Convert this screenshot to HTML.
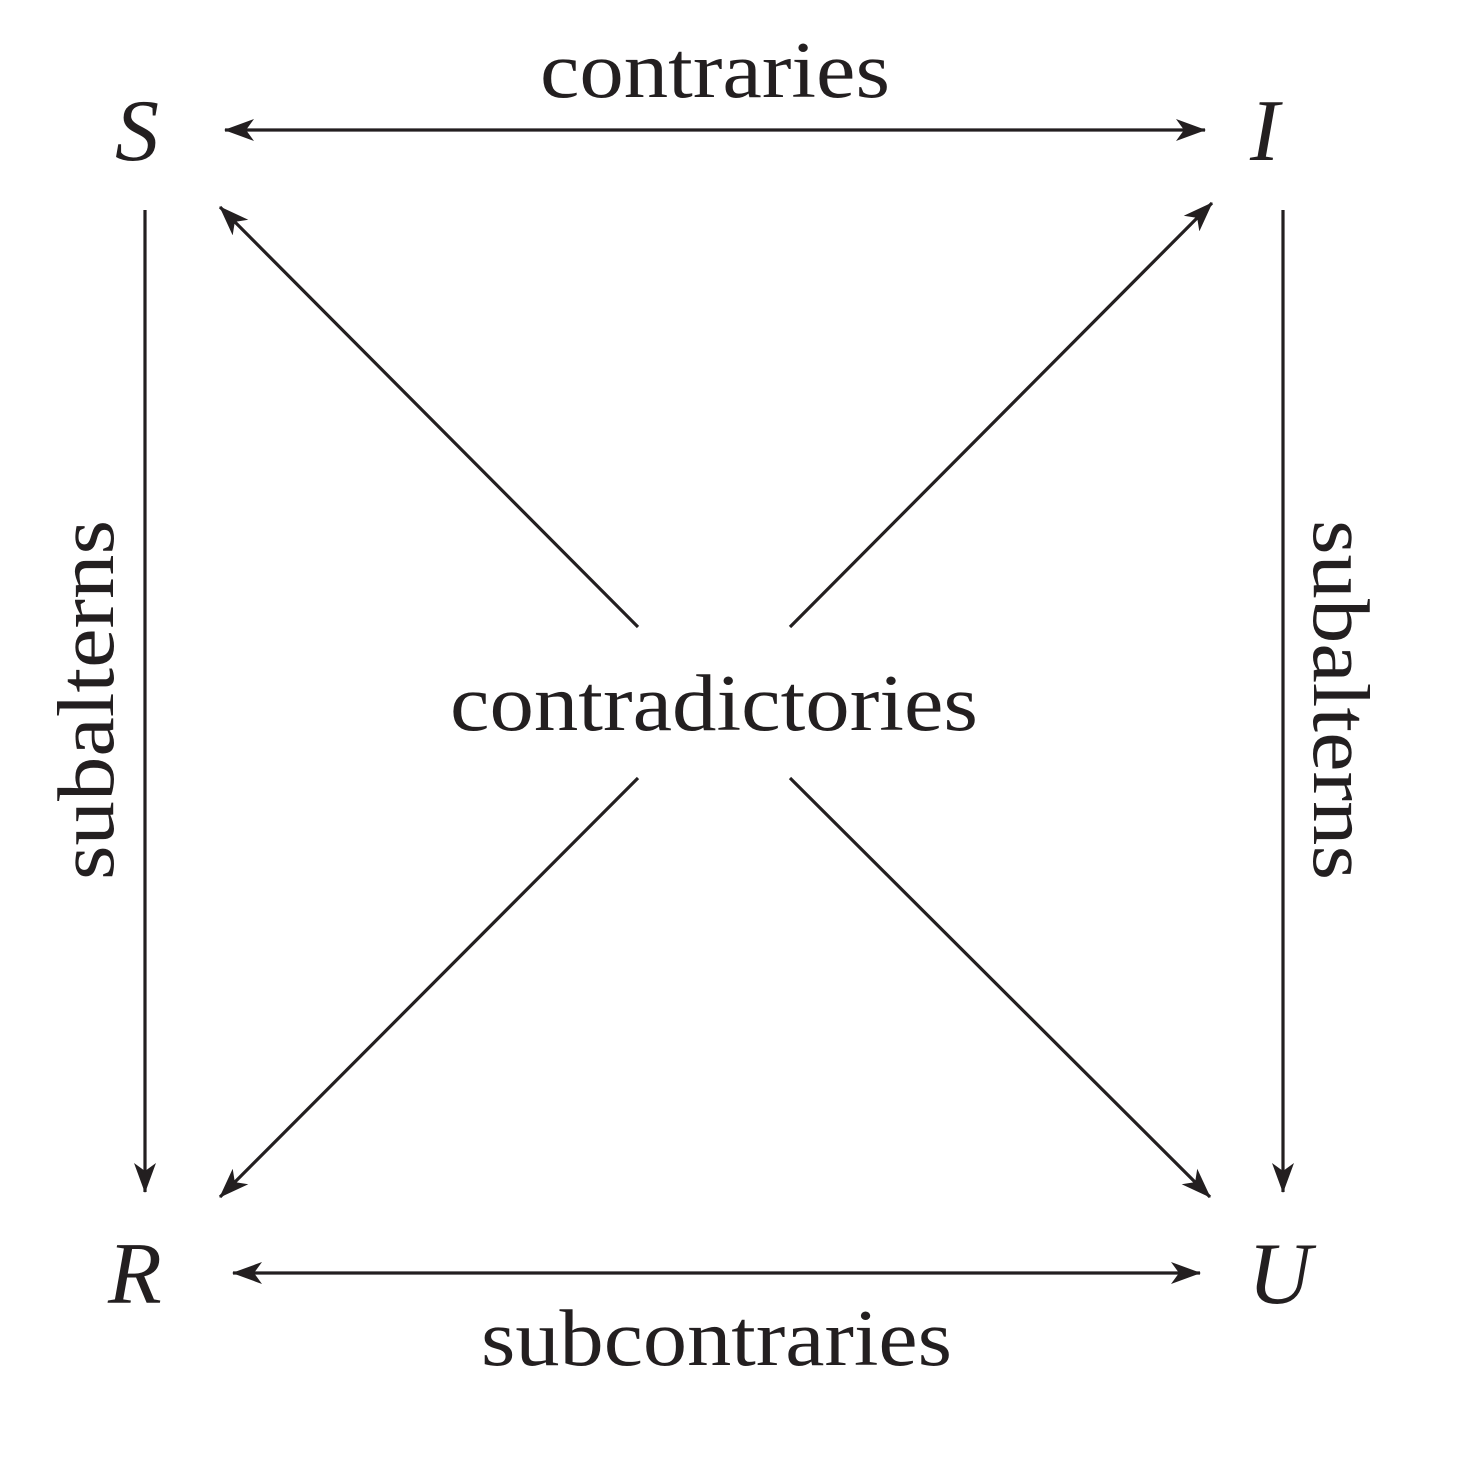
<!DOCTYPE html>
<html><head><meta charset="utf-8"><style>html,body{margin:0;padding:0;background:#fff}svg{display:block}</style></head>
<body>
<svg width="1474" height="1460" viewBox="0 0 1474 1460" xmlns="http://www.w3.org/2000/svg">
<defs>
<marker id="a" viewBox="0 0 30 24" refX="29" refY="12" markerWidth="30" markerHeight="24" markerUnits="userSpaceOnUse" orient="auto-start-reverse">
<path d="M0,1 L30,12 L0,23 L8,12 Z" fill="#231f20"/>
</marker>
</defs>
<g stroke="#231f20" stroke-width="3.2" fill="none">
<line x1="225" y1="130" x2="1205" y2="130" marker-start="url(#a)" marker-end="url(#a)"/>
<line x1="233" y1="1273" x2="1200" y2="1273" marker-start="url(#a)" marker-end="url(#a)"/>
<line x1="145" y1="210" x2="145" y2="1192" marker-end="url(#a)"/>
<line x1="1283" y1="210" x2="1283" y2="1192" marker-end="url(#a)"/>
<line x1="638" y1="627" x2="220" y2="207" marker-end="url(#a)"/>
<line x1="790" y1="627" x2="1212" y2="203" marker-end="url(#a)"/>
<line x1="638" y1="778" x2="220" y2="1197" marker-end="url(#a)"/>
<line x1="790" y1="778" x2="1210" y2="1197" marker-end="url(#a)"/>
</g>
<g fill="#231f20" font-family="Liberation Serif, serif" font-size="80">
<text x="540" y="97" textLength="350" lengthAdjust="spacingAndGlyphs">contraries</text>
<text x="450" y="730" textLength="528" lengthAdjust="spacingAndGlyphs">contradictories</text>
<text x="481" y="1365" textLength="471" lengthAdjust="spacingAndGlyphs">subcontraries</text>
<text transform="translate(113,880) rotate(-90)" textLength="360" lengthAdjust="spacingAndGlyphs">subalterns</text>
<text transform="translate(1314,520) rotate(90)" textLength="360" lengthAdjust="spacingAndGlyphs">subalterns</text>
<g font-style="italic" font-size="88">
<text x="115" y="160">S</text>
<text x="1250" y="160">I</text>
<text x="108" y="1303">R</text>
<text x="1248" y="1303">U</text>
</g>
</g>
</svg>
</body></html>
